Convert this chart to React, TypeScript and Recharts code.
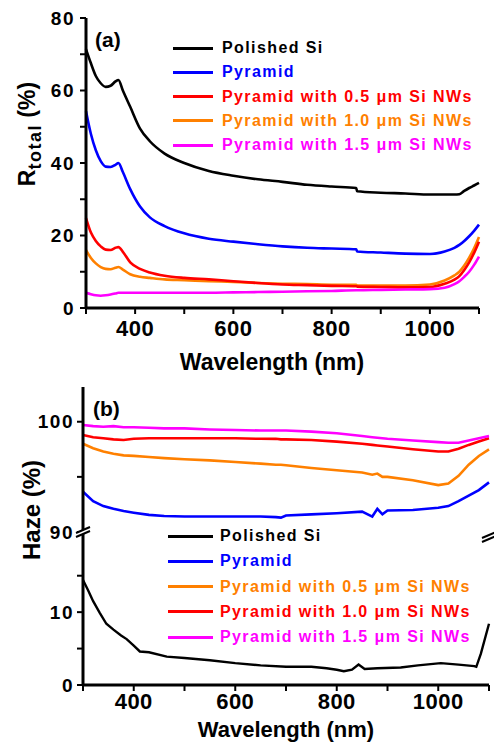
import React from "react";
import { LineChart, Line, XAxis, YAxis } from "recharts";

const FONT = '"Liberation Sans", Arial, sans-serif';

// (a) total reflectance vs wavelength
const wlA = [300, 310, 320, 330, 340, 350, 360, 366, 375, 390, 410, 430, 460, 500, 550, 600, 650, 700, 750, 800, 850, 852, 900, 950, 1000, 1030, 1050, 1060, 1070, 1080, 1090, 1100];
const rPolished = [71.4, 67.5, 64.0, 62.0, 61.0, 61.3, 62.5, 62.9, 60.0, 55.5, 49.5, 46.0, 42.6, 40.0, 37.8, 36.5, 35.5, 34.8, 34.0, 33.5, 33.1, 32.2, 31.8, 31.6, 31.3, 31.3, 31.3, 31.4, 32.3, 33.1, 33.8, 34.5];
const rPyramid = [54.3, 48.0, 43.5, 40.5, 39.0, 38.9, 39.5, 40.0, 37.5, 32.8, 28.0, 25.0, 22.6, 20.6, 19.1, 18.3, 17.6, 17.0, 16.6, 16.4, 16.2, 15.6, 15.3, 15.0, 14.9, 15.6, 16.6, 17.4, 18.5, 19.8, 21.3, 23.0];
const rNw05 = [24.8, 20.8, 18.5, 17.0, 16.1, 16.0, 16.6, 16.8, 15.5, 12.6, 10.8, 9.8, 8.9, 8.3, 7.9, 7.4, 6.9, 6.5, 6.3, 6.1, 6.0, 5.9, 5.8, 5.7, 5.8, 6.7, 7.8, 8.8, 10.5, 12.6, 15.2, 18.3];
const rNw10 = [16.0, 13.8, 12.3, 11.3, 10.8, 10.7, 11.1, 11.3, 10.6, 9.3, 8.6, 8.3, 7.9, 7.7, 7.4, 7.2, 6.9, 6.7, 6.6, 6.4, 6.4, 6.2, 6.2, 6.2, 6.5, 7.6, 9.0, 10.0, 11.7, 13.9, 16.5, 19.6];
const rNw15 = [4.2, 3.8, 3.5, 3.4, 3.5, 3.7, 4.0, 4.2, 4.2, 4.2, 4.2, 4.2, 4.2, 4.2, 4.2, 4.3, 4.4, 4.5, 4.6, 4.7, 4.9, 4.9, 5.0, 5.1, 5.2, 5.6, 6.6, 7.4, 8.6, 10.0, 11.9, 14.2];

// (b) haze vs wavelength
const wlB = [300, 320, 340, 360, 380, 400, 430, 460, 500, 550, 600, 650, 680, 690, 700, 750, 800, 850, 870, 880, 890, 900, 950, 1000, 1020, 1040, 1060, 1080, 1100];
const hPyramid = [93.65, 92.8, 92.35, 92.1, 91.9, 91.75, 91.55, 91.45, 91.4, 91.4, 91.4, 91.4, 91.35, 91.3, 91.5, 91.6, 91.7, 91.85, 91.4, 92.1, 91.6, 91.95, 92.0, 92.2, 92.35, 92.8, 93.3, 93.8, 94.5];
const hNw05 = [98.0, 97.6, 97.3, 97.1, 96.95, 96.9, 96.8, 96.7, 96.6, 96.5, 96.35, 96.2, 96.1, 96.1, 96.05, 95.8, 95.6, 95.4, 95.2, 95.3, 95.0, 95.0, 94.7, 94.25, 94.4, 95.1, 96.1, 96.9, 97.5];
const hNw10 = [98.8, 98.6, 98.5, 98.4, 98.35, 98.45, 98.5, 98.5, 98.5, 98.5, 98.5, 98.45, 98.45, 98.4, 98.4, 98.35, 98.2, 98.0, 97.9, 97.85, 97.8, 97.75, 97.5, 97.3, 97.3, 97.55, 97.9, 98.2, 98.5];
const hNw15 = [99.7, 99.6, 99.55, 99.6, 99.5, 99.5, 99.45, 99.4, 99.4, 99.3, 99.25, 99.2, 99.2, 99.2, 99.2, 99.1, 98.95, 98.7, 98.6, 98.55, 98.5, 98.45, 98.3, 98.15, 98.1, 98.1, 98.3, 98.5, 98.7];
const wlPolishedB = [300, 310, 320, 333, 346, 360, 375, 386, 400, 412, 430, 465, 500, 550, 600, 650, 700, 750, 780, 800, 814, 830, 843, 855, 880, 926, 960, 1005, 1040, 1071, 1075, 1084, 1100];
const hPolished = [14.4, 13.0, 11.5, 9.9, 8.4, 7.6, 6.8, 6.3, 5.4, 4.6, 4.5, 3.9, 3.7, 3.4, 3.0, 2.7, 2.5, 2.5, 2.3, 2.1, 1.9, 2.1, 2.8, 2.2, 2.3, 2.4, 2.7, 3.0, 2.8, 2.6, 2.5, 4.3, 8.4];

const xTicks = [300, 400, 500, 600, 700, 800, 900, 1000, 1100];
const xLabels = [400, 600, 800, 1000];
const yTicksA = [0, 10, 20, 30, 40, 50, 60, 70, 80];
const yLabelsA = [0, 20, 40, 60, 80];
const yTicksHigh = [90, 95, 100];
const yLabelsHigh = [90, 100];
const yTicksLow = [0, 5, 10, 15];
const yLabelsLow = [0, 10];

const legendA = [
  { name: "Polished Si", color: "#000000" },
  { name: "Pyramid", color: "#0000ff" },
  { name: "Pyramid with 0.5 μm Si NWs", color: "#ff0000" },
  { name: "Pyramid with 1.0 μm Si NWs", color: "#ff8000" },
  { name: "Pyramid with 1.5 μm Si NWs", color: "#ff00ff" },
];
const legendB = [
  { name: "Polished Si", color: "#000000" },
  { name: "Pyramid", color: "#0000ff" },
  { name: "Pyramid with 0.5 μm Si NWs", color: "#ff8000" },
  { name: "Pyramid with 1.0 μm Si NWs", color: "#ff0000" },
  { name: "Pyramid with 1.5 μm Si NWs", color: "#ff00ff" },
];

const dataA = wlA.map((wl, i) => ({ wl, polished: rPolished[i], pyramid: rPyramid[i], nw05: rNw05[i], nw10: rNw10[i], nw15: rNw15[i] }));
const dataB = wlB.map((wl, i) => ({ wl, pyramid: hPyramid[i], nw05: hNw05[i], nw10: hNw10[i], nw15: hNw15[i] }));
const dataPolishedB = wlPolishedB.map((wl, i) => ({ wl, polished: hPolished[i] }));

const axisLine = { stroke: "#000", strokeWidth: 3 };
const tickLine = { stroke: "#000", strokeWidth: 2 };
const xTickStyle = { fill: "#000", fontSize: 22, fontWeight: 700, fontFamily: FONT, letterSpacing: 0.5 };
const yTickStyle = { fill: "#000", fontSize: 19, fontWeight: 700, fontFamily: FONT, letterSpacing: 1.5 };

const only = (list: number[]) => (v: number) => (list.includes(v) ? String(v) : "");

function Legend({ items, top, gap, lineLeft, lineWidth, textLeft }: any) {
  return (
    <>
      {items.map((it: any, i: number) => (
        <div key={it.name} style={{ position: "absolute", top: top + i * gap, left: 0, height: 0 }}>
          <div style={{ position: "absolute", left: lineLeft, top: -1.5, width: lineWidth, height: 3, background: it.color }} />
          <div
            style={{
              position: "absolute",
              left: textLeft,
              top: -10,
              lineHeight: "20px",
              whiteSpace: "nowrap",
              color: it.color,
              fontSize: 16,
              fontWeight: 700,
              letterSpacing: 1.4,
            }}
          >
            {it.name}
          </div>
        </div>
      ))}
    </>
  );
}

function Title({ x, y, size, rotate, children }: any) {
  return (
    <div
      style={{
        position: "absolute",
        left: x,
        top: y,
        transform: `translate(-50%, -50%)${rotate ? " rotate(-90deg)" : ""}`,
        whiteSpace: "nowrap",
        fontSize: size,
        fontWeight: 700,
        lineHeight: 1,
      }}
    >
      {children}
    </div>
  );
}

function BreakMark({ x, y }: { x: number; y: number }) {
  return (
    <g>
      <polygon points={`${x - 7},${y + 1} ${x + 7},${y - 5} ${x + 7},${y - 1} ${x - 7},${y + 5}`} fill="#fff" />
      <line x1={x - 7} y1={y + 1} x2={x + 7} y2={y - 5} stroke="#000" strokeWidth={2} />
      <line x1={x - 7} y1={y + 5} x2={x + 7} y2={y - 1} stroke="#000" strokeWidth={2} />
    </g>
  );
}

export default function App() {
  return (
    <div style={{ position: "absolute", left: 0, top: 0, width: 494, height: 743, background: "#fff", fontFamily: FONT, overflow: "hidden" }}>
      {/* panel (a) */}
      <div style={{ position: "absolute", left: 0, top: 0 }}>
        <LineChart width={494} height={385} data={dataA} margin={{ top: 18, right: 15, bottom: 0, left: 0 }}>
          <XAxis dataKey="wl" type="number" domain={[300, 1100]} ticks={xTicks} interval={0} tickFormatter={only(xLabels)} height={77}
            axisLine={axisLine} tickLine={tickLine} tickSize={6} tickMargin={6} tick={xTickStyle} />
          <XAxis xAxisId="top" orientation="top" type="number" domain={[300, 1100]} height={0} tick={false} tickLine={false} axisLine={axisLine} />
          <YAxis type="number" domain={[0, 80]} ticks={yTicksA} interval={0} tickFormatter={only(yLabelsA)} width={86}
            axisLine={axisLine} tickLine={tickLine} tickSize={6} tickMargin={5} tick={yTickStyle} />
          <YAxis yAxisId="right" orientation="right" type="number" domain={[0, 80]} width={0} tick={false} tickLine={false} axisLine={axisLine} />
          <Line dataKey="polished" stroke="#000000" strokeWidth={2.6} dot={false} type="monotone" isAnimationActive={false} />
          <Line dataKey="pyramid" stroke="#0000ff" strokeWidth={2.6} dot={false} type="monotone" isAnimationActive={false} />
          <Line dataKey="nw10" stroke="#ff8000" strokeWidth={2.6} dot={false} type="monotone" isAnimationActive={false} />
          <Line dataKey="nw05" stroke="#ff0000" strokeWidth={2.6} dot={false} type="monotone" isAnimationActive={false} />
          <Line dataKey="nw15" stroke="#ff00ff" strokeWidth={2.6} dot={false} type="monotone" isAnimationActive={false} />
        </LineChart>
      </div>

      {/* panel (b), upper segment of the broken axis */}
      <div style={{ position: "absolute", left: 0, top: 370 }}>
        <LineChart width={494} height={172} data={dataB} margin={{ top: 17, right: 5, bottom: 10, left: 0 }}>
          <XAxis dataKey="wl" orientation="top" type="number" domain={[300, 1100]} height={0} tick={false} tickLine={false} axisLine={axisLine} />
          <YAxis type="number" domain={[90, 103.15]} ticks={yTicksHigh} interval={0} tickFormatter={only(yLabelsHigh)} width={83} allowDataOverflow
            axisLine={axisLine} tickLine={tickLine} tickSize={6} tickMargin={3} tick={yTickStyle} />
          <YAxis yAxisId="right" orientation="right" type="number" domain={[90, 103.15]} width={0} tick={false} tickLine={false} axisLine={axisLine} />
          <Line dataKey="pyramid" stroke="#0000ff" strokeWidth={2.6} dot={false} isAnimationActive={false} />
          <Line dataKey="nw05" stroke="#ff8000" strokeWidth={2.6} dot={false} isAnimationActive={false} />
          <Line dataKey="nw10" stroke="#ff0000" strokeWidth={2.6} dot={false} isAnimationActive={false} />
          <Line dataKey="nw15" stroke="#ff00ff" strokeWidth={2.6} dot={false} isAnimationActive={false} />
        </LineChart>
      </div>

      {/* panel (b), lower segment */}
      <div style={{ position: "absolute", left: 0, top: 522 }}>
        <LineChart width={494} height={221} data={dataPolishedB} margin={{ top: 10, right: 5, bottom: 0, left: 0 }}>
          <XAxis dataKey="wl" type="number" domain={[300, 1100]} ticks={xTicks} interval={0} tickFormatter={only(xLabels)} height={58}
            axisLine={axisLine} tickLine={tickLine} tickSize={6} tickMargin={2} tick={xTickStyle} />
          <YAxis type="number" domain={[0, 21]} ticks={yTicksLow} interval={0} tickFormatter={only(yLabelsLow)} width={83} allowDataOverflow
            axisLine={axisLine} tickLine={tickLine} tickSize={6} tickMargin={3} tick={yTickStyle} />
          <YAxis yAxisId="right" orientation="right" type="number" domain={[0, 21]} width={0} tick={false} tickLine={false} axisLine={axisLine} />
          <Line dataKey="polished" stroke="#000000" strokeWidth={2.4} dot={false} isAnimationActive={false} />
        </LineChart>
      </div>

      <svg width={494} height={743} style={{ position: "absolute", left: 0, top: 0, pointerEvents: "none" }}>
        <BreakMark x={83} y={532} />
        <BreakMark x={489} y={537} />
      </svg>

      <Legend items={legendA} top={48} gap={24.3} lineLeft={173} lineWidth={40} textLeft={222} />
      <Legend items={legendB} top={536} gap={25.3} lineLeft={168} lineWidth={45} textLeft={220} />

      <div style={{ position: "absolute", left: 95, top: 29, fontSize: 21, fontWeight: 700, lineHeight: 1 }}>(a)</div>
      <div style={{ position: "absolute", left: 93, top: 398, fontSize: 21, fontWeight: 700, lineHeight: 1 }}>(b)</div>

      <Title x={272} y={362} size={23}>Wavelength (nm)</Title>
      <Title x={286} y={730} size={22}>Wavelength (nm)</Title>
      <Title x={30} y={134} size={23} rotate>
        R<span style={{ fontSize: 18, letterSpacing: 1.5, verticalAlign: "-0.3em" }}>total</span> (%)
      </Title>
      <Title x={32} y={510} size={24} rotate>Haze (%)</Title>
    </div>
  );
}
